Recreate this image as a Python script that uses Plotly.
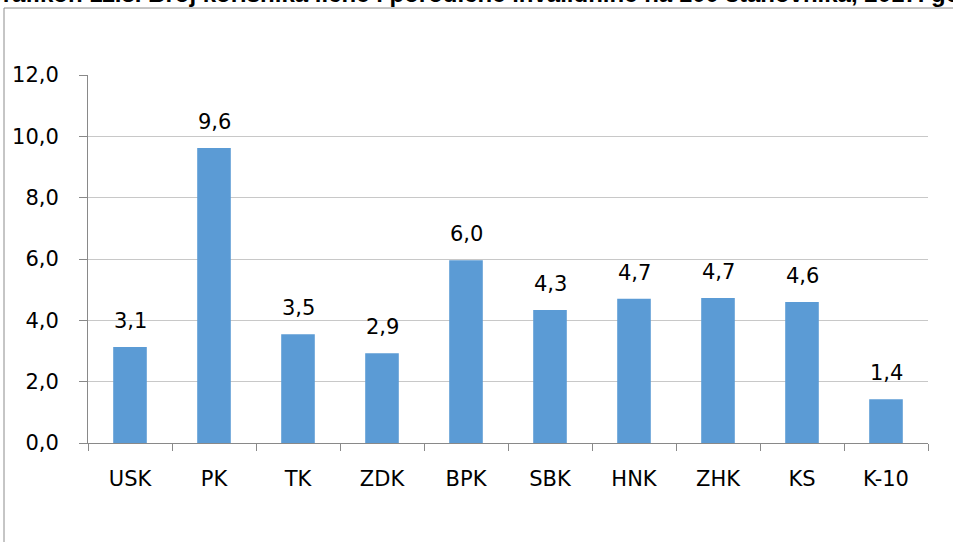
import plotly.graph_objects as go

# Korisnici lične i porodične invalidnine na 100 stanovnika po kantonima
kantoni = ["USK", "PK", "TK", "ZDK", "BPK", "SBK", "HNK", "ZHK", "KS", "K-10"]
vrijednosti = [3.13, 9.62, 3.55, 2.93, 5.96, 4.34, 4.70, 4.73, 4.60, 1.43]
y_ticks = [0, 2, 4, 6, 8, 10, 12]

naslov = ("Grafikon 11.3. Broj korisnika lične i porodične invalidnine "
          "na 100 stanovnika, 2017. godine")

FONT = "DejaVu Sans"
FONT_SIZE = 21
BAR_COLOR = "#5B9BD5"
AXIS_COLOR = "#898989"
GRID_COLOR = "#C8C8C8"


def fmt(v):
    return f"{v:.1f}".replace(".", ",")


fig = go.Figure(
    go.Bar(
        x=kantoni,
        y=vrijednosti,
        marker=dict(color=BAR_COLOR, line=dict(width=0)),
        hoverinfo="skip",
    )
)

# value labels above each bar
for k, v in zip(kantoni, vrijednosti):
    fig.add_annotation(
        x=k, y=v, xref="x", yref="y",
        text=fmt(v), showarrow=False,
        yanchor="bottom", yshift=12,
        font=dict(family=FONT, size=FONT_SIZE, color="#000000"),
    )

# chart title, running past the top and sides of the page
fig.add_annotation(
    x=-0.126, y=1.178, xref="paper", yref="paper",
    xanchor="left", yanchor="bottom",
    text="<b>" + naslov + "</b>", showarrow=False,
    font=dict(family="Liberation Sans", size=24, color="#000000"),
)

# outer chart frame
fig.add_shape(
    type="rect", xref="paper", yref="paper",
    x0=-0.1, x1=1.04, y0=-0.32, y1=1.182,
    line=dict(color="#8C8C8C", width=1), layer="below",
)

fig.update_layout(
    width=953, height=542,
    margin=dict(l=88, r=25, t=75, b=99),
    paper_bgcolor="white", plot_bgcolor="white",
    separators=", ",
    bargap=0.6,
    showlegend=False,
    font=dict(family=FONT, size=FONT_SIZE, color="#000000"),
)

fig.update_xaxes(
    type="category",
    showline=True, linecolor=AXIS_COLOR, linewidth=1,
    ticks="outside", tickson="boundaries", ticklen=7, tickcolor=AXIS_COLOR,
    showgrid=False,
    tickfont=dict(family=FONT, size=FONT_SIZE, color="#000000"),
    ticklabelstandoff=17,
)

fig.update_yaxes(
    range=[0, 12],
    tickvals=y_ticks,
    ticktext=[fmt(t) for t in y_ticks],
    showline=True, linecolor=AXIS_COLOR, linewidth=1,
    ticks="outside", ticklen=8, tickcolor=AXIS_COLOR,
    showgrid=True, gridcolor=GRID_COLOR, gridwidth=1,
    zeroline=False,
    tickfont=dict(family=FONT, size=FONT_SIZE, color="#000000"),
    ticklabelstandoff=16,
)

fig.write_html("out.html")
